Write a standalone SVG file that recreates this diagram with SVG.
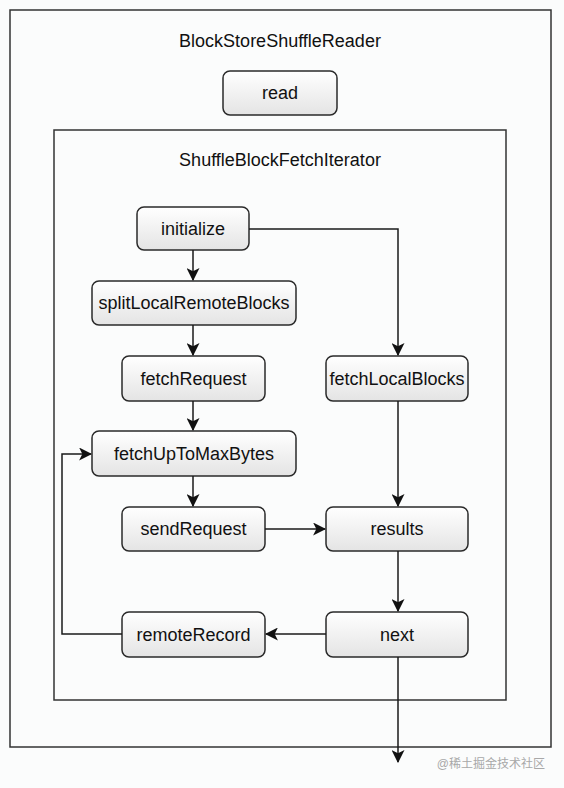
<svg xmlns="http://www.w3.org/2000/svg" width="564" height="788" viewBox="0 0 564 788">
<defs>
<linearGradient id="g" x1="0" y1="0" x2="0" y2="1">
<stop offset="0" stop-color="#ffffff"/>
<stop offset="1" stop-color="#e4e4e4"/>
</linearGradient>
<marker id="arr" viewBox="0 0 12 12" refX="11" refY="6" markerWidth="13" markerHeight="13" markerUnits="userSpaceOnUse" orient="auto">
<path d="M0,0 L12,6 L0,12 L3,6 z" fill="#111"/>
</marker>
</defs>
<style>
.box{fill:url(#g);stroke:#2a2a2a;stroke-width:1.5}
.frame{fill:none;stroke:#333;stroke-width:1.5}
.t{font-family:"Liberation Sans",Arial,sans-serif;font-size:18px;fill:#111;text-anchor:middle;dominant-baseline:central}
.title{font-family:"Liberation Sans",Arial,sans-serif;font-size:18px;fill:#111;text-anchor:middle;dominant-baseline:central}
.c{fill:none;stroke:#1a1a1a;stroke-width:1.5}
</style>
<rect width="564" height="788" fill="#fbfcfc"/>
<g id="BlockStoreShuffleReader">
<rect class="frame" x="10" y="10" width="541" height="737"/>
<text class="title" x="280" y="41">BlockStoreShuffleReader</text>
</g>
<g id="ShuffleBlockFetchIterator">
<rect class="frame" x="54" y="130" width="452" height="570"/>
<text class="title" x="280" y="160">ShuffleBlockFetchIterator</text>
</g>
<g id="read"><rect class="box" x="223" y="71" width="114" height="44" rx="7"/><text class="t" x="280" y="93">read</text></g>
<g id="initialize"><rect class="box" x="137" y="207" width="112" height="43" rx="7"/><text class="t" x="193" y="228.5">initialize</text></g>
<g id="splitLocalRemoteBlocks"><rect class="box" x="92" y="281" width="204" height="44" rx="7"/><text class="t" x="194" y="303">splitLocalRemoteBlocks</text></g>
<g id="fetchRequest"><rect class="box" x="122" y="356" width="143" height="45" rx="7"/><text class="t" x="193.5" y="378.5">fetchRequest</text></g>
<g id="fetchLocalBlocks"><rect class="box" x="326" y="356" width="142" height="45" rx="7"/><text class="t" x="397" y="378.5">fetchLocalBlocks</text></g>
<g id="fetchUpToMaxBytes"><rect class="box" x="92" y="431" width="204" height="45" rx="7"/><text class="t" x="194" y="453.5">fetchUpToMaxBytes</text></g>
<g id="sendRequest"><rect class="box" x="122" y="507" width="143" height="44" rx="7"/><text class="t" x="193.5" y="529">sendRequest</text></g>
<g id="results"><rect class="box" x="326" y="507" width="142" height="44" rx="7"/><text class="t" x="397" y="529">results</text></g>
<g id="remoteRecord"><rect class="box" x="122" y="612" width="143" height="45" rx="7"/><text class="t" x="193.5" y="634.5">remoteRecord</text></g>
<g id="next"><rect class="box" x="326" y="612" width="142" height="45" rx="7"/><text class="t" x="397" y="634.5">next</text></g>
<g id="connectors">
<path class="c" d="M249,229 H398 V355" marker-end="url(#arr)"/>
<path class="c" d="M193,250 V280" marker-end="url(#arr)"/>
<path class="c" d="M193,325 V355" marker-end="url(#arr)"/>
<path class="c" d="M193,401 V430" marker-end="url(#arr)"/>
<path class="c" d="M193,476 V506" marker-end="url(#arr)"/>
<path class="c" d="M265,529 H325" marker-end="url(#arr)"/>
<path class="c" d="M398,401 V506" marker-end="url(#arr)"/>
<path class="c" d="M398,551 V611" marker-end="url(#arr)"/>
<path class="c" d="M326,634 H266" marker-end="url(#arr)"/>
<path class="c" d="M122,634 H62 V454 H91" marker-end="url(#arr)"/>
<path class="c" d="M398,657 V762" marker-end="url(#arr)"/>
</g>
<text x="545" y="768" font-family="'Liberation Sans','Noto Sans CJK SC',sans-serif" font-size="12" fill="#a8a8a8" text-anchor="end">@稀土掘金技术社区</text>
</svg>
